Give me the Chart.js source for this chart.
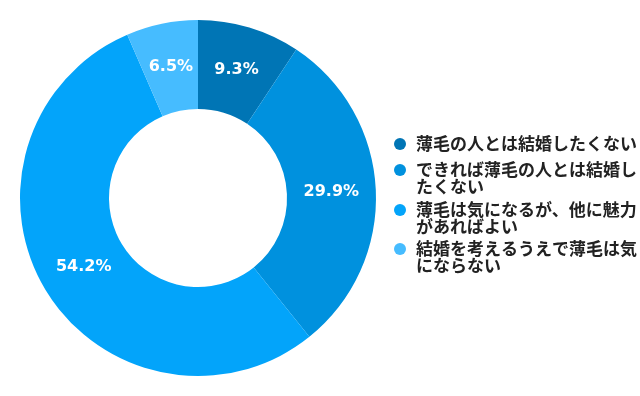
<!DOCTYPE html>
<html>
<head>
<meta charset="utf-8">
<script src="https://cdn.jsdelivr.net/npm/chart.js@4.4.1/dist/chart.umd.min.js"></script>
<style>
  html, body { margin: 0; padding: 0; background: #fff; }
  #wrap { width: 640px; height: 396px; }
</style>
</head>
<body>
<div id="wrap"><canvas id="grafico"></canvas></div>
<script>
// datos del grafico
const categorias = [
  ["薄毛の人とは結婚したくない"],
  ["できれば薄毛の人とは結婚し", "たくない"],
  ["薄毛は気になるが、他に魅力", "があればよい"],
  ["結婚を考えるうえで薄毛は気", "にならない"]
]
const valores = [9.3, 29.9, 54.2, 6.5]
const colores = ["#0075b5", "#0091de", "#03a4fa", "#46bcff"]

const lienzo = document.getElementById("grafico")

// etiquetas blancas dentro de cada porcion
const etiquetasPorcion = {
  id: "etiquetasPorcion",
  afterDatasetsDraw(chart) {
    const ctx = chart.ctx
    const meta = chart.getDatasetMeta(0)
    ctx.save()
    ctx.font = "bold 16px 'DejaVu Sans'"
    ctx.fillStyle = "#ffffff"
    ctx.textAlign = "center"
    ctx.textBaseline = "middle"
    meta.data.forEach((arco, i) => {
      const pos = arco.tooltipPosition()
      ctx.fillText(valores[i].toFixed(1) + "%", pos.x, pos.y)
    })
    ctx.restore()
  }
}

// leyenda a la derecha, dibujada en el canvas
const leyenda = {
  id: "leyenda",
  afterDraw(chart) {
    const ctx = chart.ctx
    const x0 = 400
    const filas = [144, 170, 210, 249]
    ctx.save()
    ctx.font = "bold 17px 'Noto Sans CJK JP'"
    ctx.textBaseline = "middle"
    ctx.textAlign = "left"
    categorias.forEach((lineas, i) => {
      ctx.fillStyle = colores[i]
      ctx.beginPath()
      ctx.arc(x0, filas[i], 6, 0, Math.PI * 2)
      ctx.fill()
      ctx.fillStyle = "#222222"
      lineas.forEach((t, j) => {
        ctx.fillText(t, x0 + 16, filas[i] + j * 16.5)
      })
    })
    ctx.restore()
  }
}

const config = {
  type: "doughnut",
  data: {
    labels: categorias.map(c => c.join("")),
    datasets: [{
      data: valores,
      backgroundColor: colores,
      borderWidth: 0
    }]
  },
  options: {
    responsive: true,
    maintainAspectRatio: false,
    animation: false,
    cutout: "50%",
    layout: { padding: { left: 20, right: 264, top: 20, bottom: 20 } },
    plugins: {
      legend: { display: false },
      tooltip: { enabled: false }
    }
  },
  plugins: [etiquetasPorcion, leyenda]
}

const michart = new Chart(lienzo, config)
</script>
</body>
</html>
